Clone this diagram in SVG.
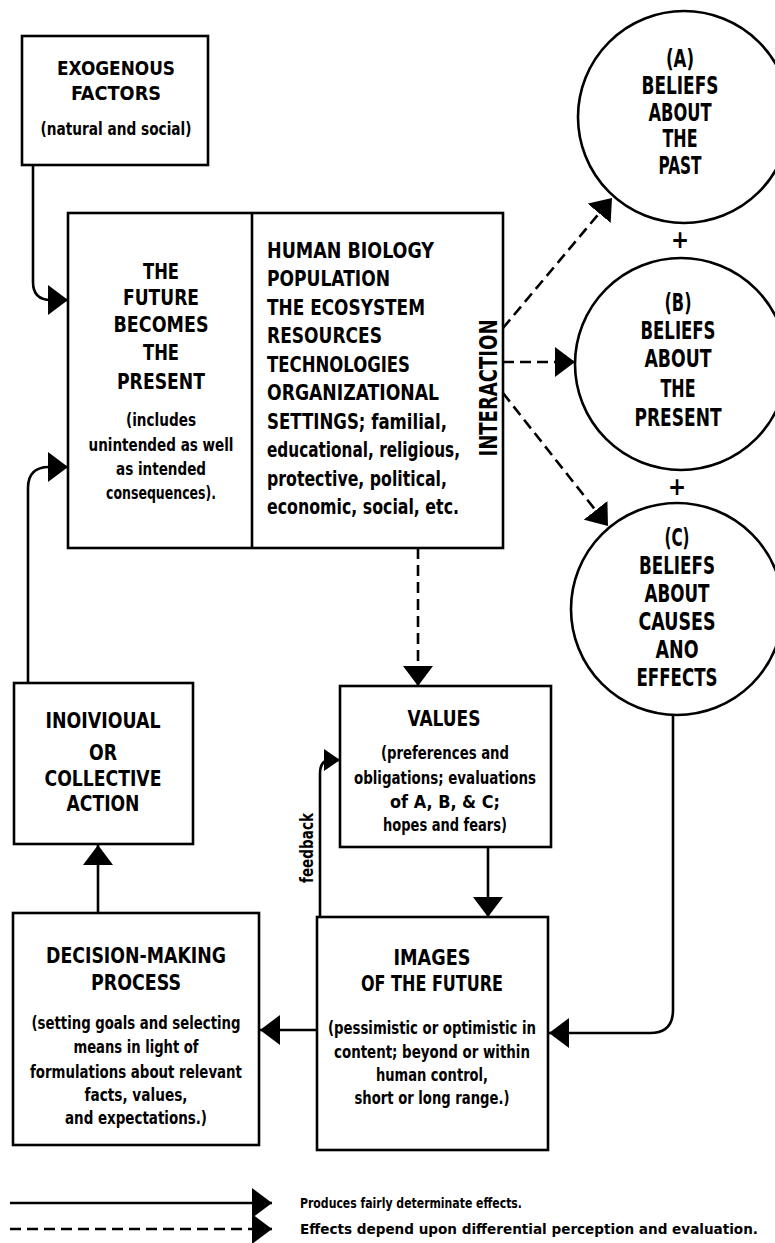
<svg xmlns="http://www.w3.org/2000/svg" width="775" height="1243" viewBox="0 0 775 1243">
<defs>
<style>
.box{fill:#fff;stroke:#000;stroke-width:2.6}
.circ{fill:#fff;stroke:#000;stroke-width:2.6}
.ln{fill:none;stroke:#000;stroke-width:2.6}
.dash{fill:none;stroke:#000;stroke-width:2.6;stroke-dasharray:11 6}
text{font-family:"Liberation Sans Narrow","DejaVu Sans Condensed","Liberation Sans",Arial,sans-serif;font-weight:bold;fill:#000}
.h{font-size:22px;text-anchor:middle}
.hx{font-size:20px;text-anchor:middle}
.hs{font-size:22px}
.c{font-size:24px;text-anchor:middle}
.s{font-size:17px;text-anchor:middle}
.lg{font-size:14px}
</style>
<marker id="ah" viewBox="0 0 20 30" refX="20" refY="15" markerWidth="20" markerHeight="30" markerUnits="userSpaceOnUse" orient="auto"><path d="M0,0 L20,15 L0,30 Z" fill="#000"/></marker>
<marker id="ahs" viewBox="0 0 16 22" refX="16" refY="11" markerWidth="16" markerHeight="22" markerUnits="userSpaceOnUse" orient="auto"><path d="M0,0 L16,11 L0,22 Z" fill="#000"/></marker>
</defs>
<rect width="775" height="1243" fill="#fff"/>

<g id="connectors">
<path class="ln" d="M33,165 V282 Q33,300 51,300 H68" marker-end="url(#ah)"/>
<path class="ln" d="M28,683 V488 Q28,467 49,467 H68" marker-end="url(#ah)"/>
<path class="ln" d="M98,913 V845" marker-end="url(#ah)"/>
<path class="ln" d="M317,1030 H260" marker-end="url(#ah)"/>
<path class="ln" d="M488,847 V917" marker-end="url(#ah)"/>
<path class="ln" d="M673,715 V1010 Q673,1033 650,1033 H549" marker-end="url(#ah)"/>
<path class="ln" d="M320,917 V774 Q320,760 330,760 H340" marker-end="url(#ahs)"/>
<path class="dash" d="M503,328 L612,198" marker-end="url(#ah)"/>
<path class="dash" d="M503,362 H575" marker-end="url(#ah)"/>
<path class="dash" d="M503,393 L608,526" marker-end="url(#ah)"/>
<path class="dash" d="M418,548 V686" marker-end="url(#ah)"/>
<path class="ln" d="M10,1203 H272" marker-end="url(#ah)"/>
<path class="dash" d="M10,1229 H272" marker-end="url(#ah)"/>
</g>

<g id="exogenous">
<rect class="box" x="22" y="36" width="186" height="129"/>
<text class="hx" x="116" y="75" textLength="118" lengthAdjust="spacingAndGlyphs">EXOGENOUS</text>
<text class="hx" x="116" y="100" textLength="90" lengthAdjust="spacingAndGlyphs">FACTORS</text>
<text class="s" x="116" y="135" textLength="151" lengthAdjust="spacingAndGlyphs">(natural and social)</text>
</g>

<g id="present">
<rect class="box" x="68" y="213" width="435" height="335"/>
<line class="ln" x1="252" y1="213" x2="252" y2="548"/>
<text class="h" x="161" y="279" textLength="36" lengthAdjust="spacingAndGlyphs">THE</text>
<text class="h" x="161" y="305" textLength="76" lengthAdjust="spacingAndGlyphs">FUTURE</text>
<text class="h" x="161" y="332" textLength="95" lengthAdjust="spacingAndGlyphs">BECOMES</text>
<text class="h" x="161" y="360" textLength="36" lengthAdjust="spacingAndGlyphs">THE</text>
<text class="h" x="161" y="389" textLength="88" lengthAdjust="spacingAndGlyphs">PRESENT</text>
<text class="s" x="161" y="426" textLength="70" lengthAdjust="spacingAndGlyphs">(includes</text>
<text class="s" x="161" y="451" textLength="145" lengthAdjust="spacingAndGlyphs">unintended as well</text>
<text class="s" x="161" y="475" textLength="90" lengthAdjust="spacingAndGlyphs">as intended</text>
<text class="s" x="161" y="499" textLength="110" lengthAdjust="spacingAndGlyphs">consequences).</text>
<text class="hs" x="267" y="258" textLength="167" lengthAdjust="spacingAndGlyphs">HUMAN BIOLOGY</text>
<text class="hs" x="267" y="286" textLength="123" lengthAdjust="spacingAndGlyphs">POPULATION</text>
<text class="hs" x="267" y="315" textLength="158" lengthAdjust="spacingAndGlyphs">THE ECOSYSTEM</text>
<text class="hs" x="267" y="343" textLength="115" lengthAdjust="spacingAndGlyphs">RESOURCES</text>
<text class="hs" x="267" y="372" textLength="143" lengthAdjust="spacingAndGlyphs">TECHNOLOGIES</text>
<text class="hs" x="267" y="400" textLength="172" lengthAdjust="spacingAndGlyphs">ORGANIZATIONAL</text>
<text class="hs" x="267" y="429" textLength="180" lengthAdjust="spacingAndGlyphs">SETTINGS; familial,</text>
<text class="hs" x="267" y="457" textLength="193" lengthAdjust="spacingAndGlyphs">educational, religious,</text>
<text class="hs" x="267" y="486" textLength="180" lengthAdjust="spacingAndGlyphs">protective, political,</text>
<text class="hs" x="267" y="514" textLength="192" lengthAdjust="spacingAndGlyphs">economic, social, etc.</text>
<text class="c" transform="translate(497,388) rotate(-90)" textLength="137" lengthAdjust="spacingAndGlyphs">INTERACTION</text>
</g>

<g id="beliefs-past">
<circle class="circ" cx="684" cy="117" r="106"/>
<text class="c" x="680" y="67" textLength="28" lengthAdjust="spacingAndGlyphs">(A)</text>
<text class="c" x="680" y="94" textLength="77" lengthAdjust="spacingAndGlyphs">BELIEFS</text>
<text class="c" x="680" y="121" textLength="63" lengthAdjust="spacingAndGlyphs">ABOUT</text>
<text class="c" x="680" y="147" textLength="35" lengthAdjust="spacingAndGlyphs">THE</text>
<text class="c" x="680" y="174" textLength="43" lengthAdjust="spacingAndGlyphs">PAST</text>
</g>
<text class="c" x="680" y="248">+</text>

<g id="beliefs-present">
<circle class="circ" cx="681" cy="364" r="106"/>
<text class="c" x="678" y="311" textLength="27" lengthAdjust="spacingAndGlyphs">(B)</text>
<text class="c" x="678" y="339" textLength="75" lengthAdjust="spacingAndGlyphs">BELIEFS</text>
<text class="c" x="678" y="367" textLength="67" lengthAdjust="spacingAndGlyphs">ABOUT</text>
<text class="c" x="678" y="397" textLength="35" lengthAdjust="spacingAndGlyphs">THE</text>
<text class="c" x="678" y="426" textLength="87" lengthAdjust="spacingAndGlyphs">PRESENT</text>
</g>
<text class="c" x="677" y="495">+</text>

<g id="beliefs-causes">
<circle class="circ" cx="677" cy="609" r="106"/>
<text class="c" x="677" y="546" textLength="25" lengthAdjust="spacingAndGlyphs">(C)</text>
<text class="c" x="677" y="574" textLength="76" lengthAdjust="spacingAndGlyphs">BELIEFS</text>
<text class="c" x="677" y="602" textLength="65" lengthAdjust="spacingAndGlyphs">ABOUT</text>
<text class="c" x="677" y="630" textLength="77" lengthAdjust="spacingAndGlyphs">CAUSES</text>
<text class="c" x="677" y="658" textLength="43" lengthAdjust="spacingAndGlyphs">ANO</text>
<text class="c" x="677" y="686" textLength="81" lengthAdjust="spacingAndGlyphs">EFFECTS</text>
</g>

<g id="action">
<rect class="box" x="14" y="683" width="179" height="161"/>
<text class="h" x="103" y="728" textLength="115" lengthAdjust="spacingAndGlyphs">INOIVIOUAL</text>
<text class="h" x="103" y="760" textLength="28" lengthAdjust="spacingAndGlyphs">OR</text>
<text class="h" x="103" y="786" textLength="117" lengthAdjust="spacingAndGlyphs">COLLECTIVE</text>
<text class="h" x="103" y="811" textLength="73" lengthAdjust="spacingAndGlyphs">ACTION</text>
</g>

<g id="values">
<rect class="box" x="340" y="686" width="211" height="161"/>
<text class="h" x="444" y="726" textLength="73" lengthAdjust="spacingAndGlyphs">VALUES</text>
<text class="s" x="445" y="759" textLength="128" lengthAdjust="spacingAndGlyphs">(preferences and</text>
<text class="s" x="445" y="784" textLength="182" lengthAdjust="spacingAndGlyphs">obligations; evaluations</text>
<text class="s" x="445" y="808" textLength="110" lengthAdjust="spacingAndGlyphs">of A, B, &amp; C;</text>
<text class="s" x="445" y="831" textLength="124" lengthAdjust="spacingAndGlyphs">hopes and fears)</text>
</g>
<text class="s" transform="translate(313,848) rotate(-90)" textLength="70" lengthAdjust="spacingAndGlyphs">feedback</text>

<g id="images">
<rect class="box" x="317" y="917" width="231" height="233"/>
<text class="h" x="432" y="965" textLength="77" lengthAdjust="spacingAndGlyphs">IMAGES</text>
<text class="h" x="432" y="991" textLength="142" lengthAdjust="spacingAndGlyphs">OF THE FUTURE</text>
<text class="s" x="432" y="1034" textLength="208" lengthAdjust="spacingAndGlyphs">(pessimistic or optimistic in</text>
<text class="s" x="432" y="1058" textLength="196" lengthAdjust="spacingAndGlyphs">content; beyond or within</text>
<text class="s" x="432" y="1081" textLength="112" lengthAdjust="spacingAndGlyphs">human control,</text>
<text class="s" x="432" y="1104" textLength="155" lengthAdjust="spacingAndGlyphs">short or long range.)</text>
</g>

<g id="decision">
<rect class="box" x="13" y="913" width="246" height="232"/>
<text class="h" x="136" y="963" textLength="180" lengthAdjust="spacingAndGlyphs">DECISION-MAKING</text>
<text class="h" x="136" y="990" textLength="90" lengthAdjust="spacingAndGlyphs">PROCESS</text>
<text class="s" x="136" y="1029" textLength="209" lengthAdjust="spacingAndGlyphs">(setting goals and selecting</text>
<text class="s" x="136" y="1053" textLength="125" lengthAdjust="spacingAndGlyphs">means in light of</text>
<text class="s" x="136" y="1078" textLength="212" lengthAdjust="spacingAndGlyphs">formulations about relevant</text>
<text class="s" x="136" y="1101" textLength="103" lengthAdjust="spacingAndGlyphs">facts, values,</text>
<text class="s" x="136" y="1124" textLength="142" lengthAdjust="spacingAndGlyphs">and expectations.)</text>
</g>

<g id="legend">
<text class="lg" x="300" y="1208" textLength="222" lengthAdjust="spacingAndGlyphs">Produces fairly determinate effects.</text>
<text class="lg" x="300" y="1234" textLength="458" lengthAdjust="spacingAndGlyphs">Effects depend upon differential perception and evaluation.</text>
</g>
</svg>
